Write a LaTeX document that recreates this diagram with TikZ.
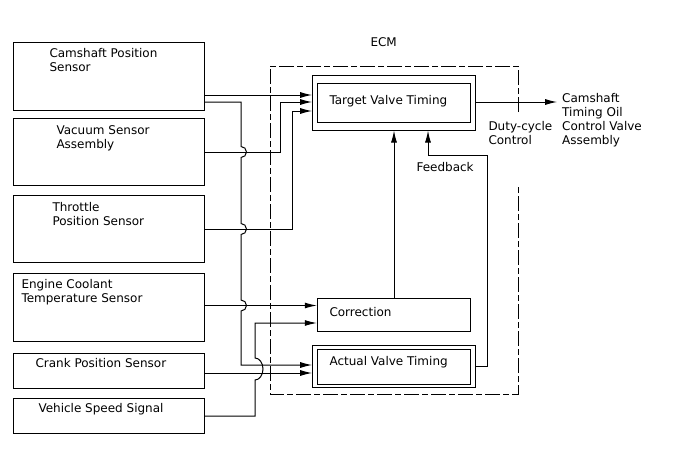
\documentclass[tikz,border=0pt]{standalone}
\usepackage{fontspec}
\setmainfont{DejaVu Sans}
\usetikzlibrary{arrows.meta,calc}
\tikzset{every picture/.style={line width=1pt}}
\tikzset{
  sensor/.style={draw, rectangle, minimum width=191pt, inner sep=0pt},
  vbox/.style={draw, rectangle, inner sep=0pt},
  lbl/.style={anchor=base west, inner sep=0pt, align=left,
    font=\fontsize{12}{14}\selectfont},
  sig/.style={-{Latex[length=12pt,width=6pt]}},
  ecm/.style={dash pattern=on 15pt off 3pt on 6pt off 3pt},
}

\begin{document}
\begin{tikzpicture}[x=1pt,y=-1pt]
    \useasboundingbox (0,0) rectangle (688,463);
    % 传感器 (多行文字: 基线在最后一行)
    \node[sensor, minimum height=67.5pt] (cmp) at (108.5,76.3) {};
    \node[sensor, minimum height=67.5pt] (vac) at (108.5,152.2) {};
    \node[sensor, minimum height=67.5pt] (thr) at (108.5,228.9) {};
    \node[sensor, minimum height=68pt] (ect) at (108.5,307) {};
    \node[sensor, minimum height=35pt] (ckp) at (108.5,370.5) {};
    \node[sensor, minimum height=35pt] (vss) at (108.5,415.5) {};
    \node[lbl] (cmpt) at (49,71) {Camshaft Position\\Sensor};
    \node[lbl] (vact) at (56,148) {Vacuum Sensor\\Assembly};
    \node[lbl] (thrt) at (52,225.5) {Throttle\\Position Sensor};
    \node[lbl] (ectt) at (21,302.3) {Engine Coolant\\Temperature Sensor};
    \node[lbl] (ckpt) at (35,367.3) {Crank Position Sensor};
    \node[lbl] (vsst) at (38,412.7) {Vehicle Speed Signal};
    % ECM
    \draw[ecm] (518,112) -- (518,66) -- (270,66) -- (270,394) -- (518,394) -- (518,187);
    \node[lbl] (ecmt) at (370,46.7) {ECM};
    \node[vbox, minimum width=162.3pt, minimum height=54.3pt] (tvt) at (393.85,102.85) {};
    \node[vbox, minimum width=153.4pt, minimum height=39pt] (tvti) at (394,102.8) {};
    \node[vbox, minimum width=153.4pt, minimum height=33.4pt] (cor) at (394,315) {};
    \node[vbox, minimum width=162.3pt, minimum height=41.6pt] (avt) at (393.85,366.5) {};
    \node[vbox, minimum width=153.4pt, minimum height=35pt] (avti) at (394,366.5) {};
    \node[lbl] (tvtt) at (329,104) {Target Valve Timing};
    \node[lbl] (cort) at (329,316.7) {Correction};
    \node[lbl] (avtt) at (329,365) {Actual Valve Timing};
    \node[lbl] (fbt) at (416,171.7) {Feedback};
    \node[lbl] (dct) at (488,144) {Duty-cycle\\Control};
    \node[lbl] (ocv) at (561.7,144) {Camshaft\\Timing Oil\\Control Valve\\Assembly};
    % 信号线
    \draw[sig] (cmp.east |- 0,95) -- (tvt.west |- 0,95);
    \draw[sig] (cmp.east |- 0,102) -- (241,102) -- (241,146.5)
        arc[start angle=90,end angle=-90,radius=5.5pt] -- (241,223.5)
        arc[start angle=90,end angle=-90,radius=5.5pt] -- (241,300)
        arc[start angle=90,end angle=-90,radius=5.5pt] -- (241,365)
        -- (avt.west |- 0,365);
    \draw[sig] (vac.east |- 0,152) -- (280,152) -- (280,102) -- (tvt.west |- 0,102);
    \draw[sig] (thr.east |- 0,229) -- (292,229) -- (292,111) -- (tvt.west |- 0,111);
    \draw[sig] (ect.east |- 0,305.5) -- (cor.west |- 0,305.5);
    \draw[sig] (ckp.east |- 0,373) -- (avt.west |- 0,373);
    \draw[sig] (vss.east |- 0,416) -- (255,416) -- (255,380)
        arc[start angle=-90,end angle=90,x radius=8pt,y radius=11pt]
        -- (255,323) -- (cor.west |- 0,323);
    % 反馈
    \draw[sig] (cor.north -| 394,0) -- (tvt.south -| 394,0);
    \draw[sig] (avt.east |- 0,366) -- (487,366) -- (487,155) -- (428,155) -- (tvt.south -| 428,0);
    \draw[sig, shorten >=4.5pt] (tvt.east |- 0,102) -- (ocv.west |- 0,102);
\end{tikzpicture}
\end{document}
